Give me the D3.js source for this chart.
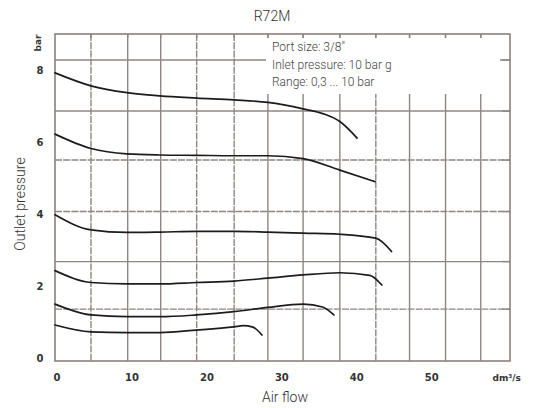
<!DOCTYPE html>
<html><head><meta charset="utf-8">
<script src="https://cdn.jsdelivr.net/npm/d3@7/dist/d3.min.js"></script>
<style>
html,body{margin:0;padding:0;background:#fff;}
svg{display:block;}
</style></head>
<body>
<svg id="chart" width="544" height="408"></svg>
<script>
// ---- data ----
const title = "R72M";
const notes = ["Port size: 3/8\"", "Inlet pressure: 10 bar g", "Range: 0,3 ... 10 bar"];
const xTickValues = [0, 10, 20, 30, 40, 50];
const xUnitLabel = "dm³/s";
const yTickValues = [0, 2, 4, 6, 8];
const yUnitLabel = "bar";
const xGrid = [4.8, 9.7, 14.1, 18.9, 23.9, 28.4, 33.1, 38.0, 42.8, 47.3, 52.1, 56.8];
const xGridDashed = [4.8, 18.9, 23.9, 42.8];
const yGrid = [1.44, 2.76, 4.15, 5.58, 6.94, 8.36];
const yGridDashed = [1.44, 4.15, 5.58];
const curve1 = [[0,8.0],[4.8,7.64],[9.6,7.45],[14,7.36],[18.9,7.3],[23.9,7.25],[28.4,7.18],[33.1,7.0],[36,6.85],[38,6.65],[40.3,6.19]];
const curve2 = [[0,6.3],[4.8,5.9],[9.6,5.75],[14,5.72],[18.9,5.71],[23.9,5.7],[28.4,5.7],[33.1,5.62],[38,5.3],[42.7,4.98]];
const curve3 = [[0,4.06],[4.8,3.64],[9.6,3.57],[14,3.58],[18.9,3.6],[23.9,3.6],[28.4,3.58],[33.1,3.55],[38,3.52],[42.8,3.41],[44.9,3.04]];
const curve4 = [[0,2.51],[4.8,2.18],[9.6,2.14],[14,2.14],[18.9,2.18],[23.9,2.22],[28.4,2.3],[33.1,2.39],[38,2.45],[42.0,2.38],[43.6,2.11]];
const curve5 = [[0,1.58],[4.8,1.28],[9.6,1.23],[14,1.23],[18.9,1.28],[23.9,1.37],[28.4,1.49],[33.1,1.58],[35.7,1.5],[37.2,1.28]];
const curve6 = [[0,1.0],[4.8,0.81],[9.6,0.79],[14,0.79],[18.9,0.86],[23.9,0.95],[25.1,0.98],[26.4,0.94],[27.6,0.72]];
const curves = [curve1, curve2, curve3, curve4, curve5, curve6];

// ---- layout ----
const svg = d3.select("#chart");
const L = 55, R = 510, T = 34, B = 361;
const x = d3.scaleLinear().domain([0, 60.7]).range([L, R]);
const y = d3.scaleLinear().domain([0, 9.08]).range([B, T]);
const gridColor = "#8f8682";

// grid
const g = svg.append("g");
g.selectAll("line.vx").data(xGrid).enter().append("line")
  .attr("x1", d => x(d)).attr("x2", d => x(d)).attr("y1", T).attr("y2", B)
  .attr("stroke", gridColor).attr("stroke-width", 1.4)
  .attr("stroke-dasharray", d => xGridDashed.includes(d) ? "7,1.2" : null);
g.selectAll("line.hy").data(yGrid).enter().append("line")
  .attr("y1", d => y(d)).attr("y2", d => y(d)).attr("x1", L).attr("x2", R)
  .attr("stroke", gridColor).attr("stroke-width", 1.4)
  .attr("stroke-dasharray", d => yGridDashed.includes(d) ? "7,1.2" : null);

// white box behind notes
svg.append("rect").attr("x", 266).attr("y", 38).attr("width", 234).attr("height", 56).attr("fill", "#fff");

// small tick stubs at top along border
svg.append("g").selectAll("line").data(xGrid).enter().append("line")
  .attr("x1", d => x(d)).attr("x2", d => x(d)).attr("y1", T).attr("y2", T + 4)
  .attr("stroke", gridColor).attr("stroke-width", 1.4);
svg.append("g").selectAll("line").data(yGrid).enter().append("line")
  .attr("y1", d => y(d)).attr("y2", d => y(d)).attr("x1", R - 8).attr("x2", R)
  .attr("stroke", gridColor).attr("stroke-width", 1.4);

// frame
svg.append("rect").attr("x", L).attr("y", T).attr("width", R - L).attr("height", B - T)
  .attr("fill", "none").attr("stroke", "#8a817c").attr("stroke-width", 1.6);

// curves
const line = d3.line().x(d => x(d[0])).y(d => y(d[1])).curve(d3.curveMonotoneX);
svg.append("g").selectAll("path").data(curves).enter().append("path")
  .attr("d", line).attr("fill", "none").attr("stroke", "#1c1c1c").attr("stroke-width", 1.7)
  .attr("stroke-linecap", "round");

// tick labels
const tickFont = "DejaVu Sans";
svg.append("g").selectAll("text").data(xTickValues).enter().append("text")
  .attr("x", d => x(d) + 2).attr("y", 381).attr("text-anchor", "middle")
  .attr("font-family", tickFont).attr("font-weight", "bold").attr("font-size", 10)
  .attr("fill", "#333").text(d => d);
svg.append("text").attr("x", x(60) + 2).attr("y", 381).attr("text-anchor", "middle")
  .attr("font-family", tickFont).attr("font-weight", "bold").attr("font-size", 9)
  .attr("fill", "#333").text(xUnitLabel);
svg.append("g").selectAll("text").data(yTickValues).enter().append("text")
  .attr("x", 40).attr("y", d => y(d) + 1).attr("text-anchor", "middle")
  .attr("font-family", tickFont).attr("font-weight", "bold").attr("font-size", 10)
  .attr("fill", "#333").text(d => d);
svg.append("text").attr("transform", "translate(41,43) rotate(-90)").attr("text-anchor", "middle")
  .attr("font-family", tickFont).attr("font-weight", "bold").attr("font-size", 9)
  .attr("fill", "#333").text(yUnitLabel);

// title & axis titles
const labFont = "Roboto";
svg.append("text").attr("x", 272).attr("y", 21).attr("text-anchor", "middle")
  .attr("font-family", labFont).attr("font-weight", 300).attr("font-size", 14)
  .attr("fill", "#333").text(title);
svg.append("text").attr("x", 285).attr("y", 402).attr("text-anchor", "middle")
  .attr("font-family", labFont).attr("font-weight", 300).attr("font-size", 14)
  .attr("fill", "#333").text("Air flow");
svg.append("text").attr("transform", "translate(25,204) rotate(-90)").attr("text-anchor", "middle")
  .attr("font-family", labFont).attr("font-weight", 300).attr("font-size", 14)
  .attr("fill", "#333").text("Outlet pressure");

// notes
svg.append("g").selectAll("text").data(notes).enter().append("text")
  .attr("x", 272).attr("y", (d, i) => 51 + i * 17.5)
  .attr("font-family", labFont).attr("font-weight", 300).attr("font-size", 12)
  .attr("fill", "#444").text(d => d);
</script>
</body></html>
